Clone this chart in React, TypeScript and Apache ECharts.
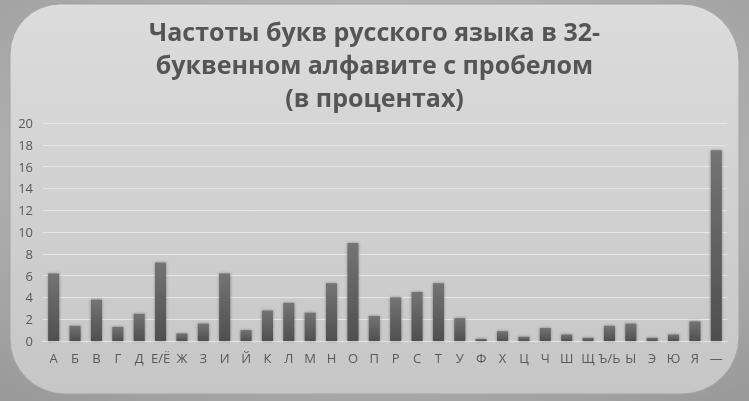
import React, { useEffect, useRef } from "react";
import * as echarts from "echarts";

const titleText = "Частоты букв русского языка в 32-\nбуквенном алфавите с пробелом\n(в процентах)";
const categories = ["А", "Б", "В", "Г", "Д", "Е/Ё", "Ж", "З", "И", "Й", "К", "Л", "М", "Н", "О", "П", "Р", "С", "Т", "У", "Ф", "Х", "Ц", "Ч", "Ш", "Щ", "Ъ/Ь", "Ы", "Э", "Ю", "Я", "—"];
const frequencies = [6.2, 1.4, 3.8, 1.3, 2.5, 7.2, 0.7, 1.6, 6.2, 1.0, 2.8, 3.5, 2.6, 5.3, 9.0, 2.3, 4.0, 4.5, 5.3, 2.1, 0.2, 0.9, 0.4, 1.2, 0.6, 0.3, 1.4, 1.6, 0.3, 0.6, 1.8, 17.5];

export default function App() {
  const ref = useRef<HTMLDivElement>(null);
  useEffect(() => {
    if (!ref.current) return;
    const chart = echarts.init(ref.current, null, { renderer: "svg" });
    chart.setOption({
      animation: false,
      graphic: [
        {
          type: "rect",
          z: -10,
          silent: true,
          shape: { x: 0, y: 0, width: 749, height: 401 },
          style: {
            fill: new echarts.graphic.RadialGradient(0.5, 0.4, 0.75, [
              { offset: 0, color: "#d2d2d2" },
              { offset: 1, color: "#9a9a9a" },
            ]),
          },
        },
        {
          type: "rect",
          z: -9,
          silent: true,
          shape: { x: 10, y: 4, width: 729, height: 390, r: [50, 57, 57, 55] },
          style: {
            fill: new echarts.graphic.LinearGradient(0, 0, 0, 1, [
              { offset: 0, color: "#dcdcdc" },
              { offset: 1, color: "#c6c6c6" },
            ]),
            stroke: "#a3a3a3",
            lineWidth: 1,
          },
        },
      ],
      title: {
        text: titleText,
        left: "center",
        top: 9,
        textStyle: {
          fontFamily: "Open Sans",
          fontWeight: "bold",
          fontSize: 25,
          lineHeight: 33,
          color: "#555555",
        },
      },
      grid: { left: 43, right: 22, top: 123, bottom: 60, containLabel: false },
      xAxis: {
        type: "category",
        data: categories,
        axisLine: { show: true, lineStyle: { color: "#e8e8e8", width: 1 } },
        axisTick: { show: false },
        axisLabel: {
          interval: 0,
          margin: 10,
          color: "#595959",
          fontFamily: "Open Sans",
          fontSize: 13,
        },
      },
      yAxis: {
        type: "value",
        min: 0,
        max: 20,
        interval: 2,
        axisLine: { show: false },
        axisTick: { show: false },
        splitLine: { lineStyle: { color: "#e6e6e6", width: 1 } },
        axisLabel: {
          margin: 10,
          color: "#595959",
          fontFamily: "Open Sans",
          fontSize: 13,
        },
      },
      series: [
        {
          type: "bar",
          data: frequencies,
          barWidth: "52%",
          itemStyle: {
            color: new echarts.graphic.LinearGradient(0, 0, 0, 1, [
              { offset: 0, color: "#747474" },
              { offset: 1, color: "#4f4f4f" },
            ]),
            shadowBlur: 3,
            shadowColor: "rgba(0,0,0,0.35)",
          },
        },
      ],
    });
    return () => chart.dispose();
  }, []);
  return (
    <div
      ref={ref}
      style={{ position: "fixed", left: 0, top: 0, width: 749, height: 401 }}
    />
  );
}
